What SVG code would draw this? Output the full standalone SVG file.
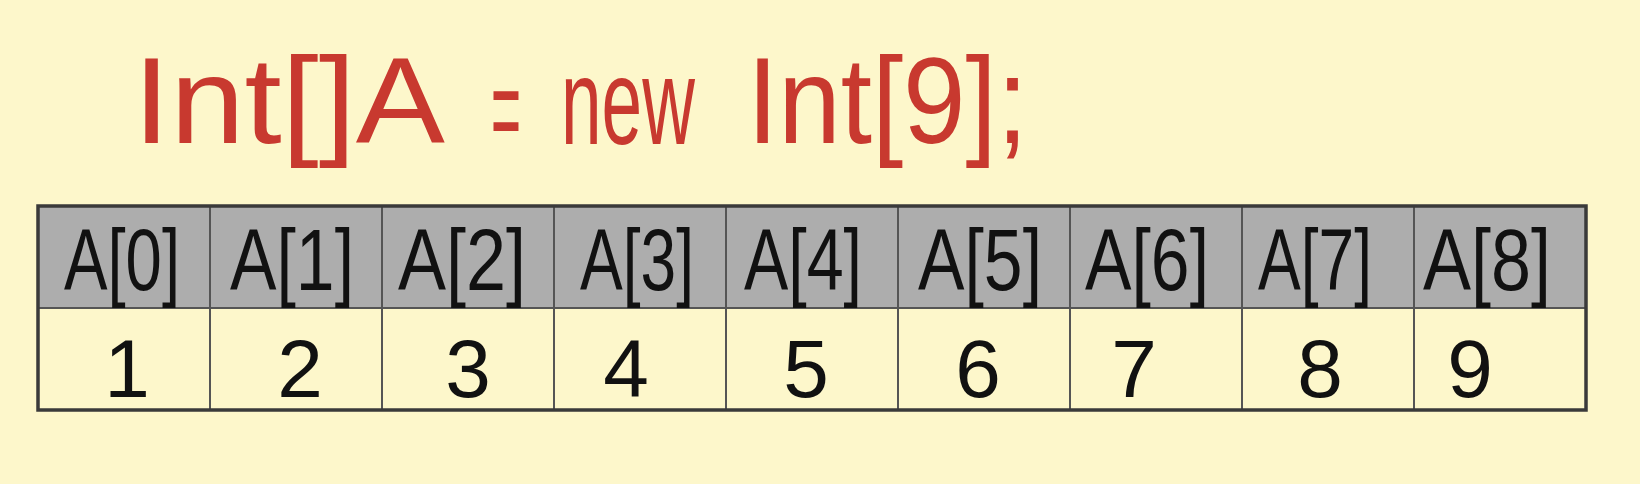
<svg xmlns="http://www.w3.org/2000/svg" width="1640" height="484" viewBox="0 0 1640 484">
  <style>
    .title { font-family: "Liberation Sans", Arial, sans-serif; fill: #c8392f; font-size: 122px; }
    .hdr { font-family: "Liberation Sans", Arial, sans-serif; fill: #111; font-size: 87px; text-anchor: middle; }
    .val { font-family: "Liberation Sans", Arial, sans-serif; fill: #111; font-size: 82px; text-anchor: middle; }
    .hcell { fill: #adadad; stroke: #555; stroke-width: 2; }
    .vcell { fill: #fdf7cb; stroke: #555; stroke-width: 2; }
  </style>
  <rect width="1640" height="484" fill="#fdf7cb"/>
  <g id="title">
    <text class="title" x="133" y="143" textLength="312" lengthAdjust="spacingAndGlyphs">Int[]A</text>
    <text class="title" x="491" y="152" font-size="84" textLength="30" lengthAdjust="spacingAndGlyphs">=</text>
    <text class="title" transform="translate(561,144) scale(0.598,1)" x="0" y="0">new</text>
    <text class="title" x="747" y="143" textLength="281" lengthAdjust="spacingAndGlyphs">Int[9];</text>
  </g>
  <g id="table">
    <g id="cell-0"><rect class="hcell" x="38" y="206" width="172" height="102"/><rect class="vcell" x="38" y="308" width="172" height="102"/><text class="hdr" x="122" y="290" textLength="116" lengthAdjust="spacingAndGlyphs">A[0]</text><text class="val" x="127" y="397">1</text></g>
    <g id="cell-1"><rect class="hcell" x="210" y="206" width="172" height="102"/><rect class="vcell" x="210" y="308" width="172" height="102"/><text class="hdr" x="292" y="290" textLength="124" lengthAdjust="spacingAndGlyphs">A[1]</text><text class="val" x="300" y="397">2</text></g>
    <g id="cell-2"><rect class="hcell" x="382" y="206" width="172" height="102"/><rect class="vcell" x="382" y="308" width="172" height="102"/><text class="hdr" x="462" y="290" textLength="128" lengthAdjust="spacingAndGlyphs">A[2]</text><text class="val" x="468" y="397">3</text></g>
    <g id="cell-3"><rect class="hcell" x="554" y="206" width="172" height="102"/><rect class="vcell" x="554" y="308" width="172" height="102"/><text class="hdr" x="637" y="290" textLength="114" lengthAdjust="spacingAndGlyphs">A[3]</text><text class="val" x="626" y="397">4</text></g>
    <g id="cell-4"><rect class="hcell" x="726" y="206" width="172" height="102"/><rect class="vcell" x="726" y="308" width="172" height="102"/><text class="hdr" x="803" y="290" textLength="118" lengthAdjust="spacingAndGlyphs">A[4]</text><text class="val" x="806" y="397">5</text></g>
    <g id="cell-5"><rect class="hcell" x="898" y="206" width="172" height="102"/><rect class="vcell" x="898" y="308" width="172" height="102"/><text class="hdr" x="980" y="290" textLength="124" lengthAdjust="spacingAndGlyphs">A[5]</text><text class="val" x="978" y="397">6</text></g>
    <g id="cell-6"><rect class="hcell" x="1070" y="206" width="172" height="102"/><rect class="vcell" x="1070" y="308" width="172" height="102"/><text class="hdr" x="1147" y="290" textLength="124" lengthAdjust="spacingAndGlyphs">A[6]</text><text class="val" x="1134" y="397">7</text></g>
    <g id="cell-7"><rect class="hcell" x="1242" y="206" width="172" height="102"/><rect class="vcell" x="1242" y="308" width="172" height="102"/><text class="hdr" x="1315" y="290" textLength="114" lengthAdjust="spacingAndGlyphs">A[7]</text><text class="val" x="1320" y="397">8</text></g>
    <g id="cell-8"><rect class="hcell" x="1414" y="206" width="172" height="102"/><rect class="vcell" x="1414" y="308" width="172" height="102"/><text class="hdr" x="1487" y="290" textLength="128" lengthAdjust="spacingAndGlyphs">A[8]</text><text class="val" x="1470" y="397">9</text></g>
    <rect x="38" y="206" width="1548" height="204" fill="none" stroke="#3a3a3a" stroke-width="3.5"/>
  </g>
</svg>
